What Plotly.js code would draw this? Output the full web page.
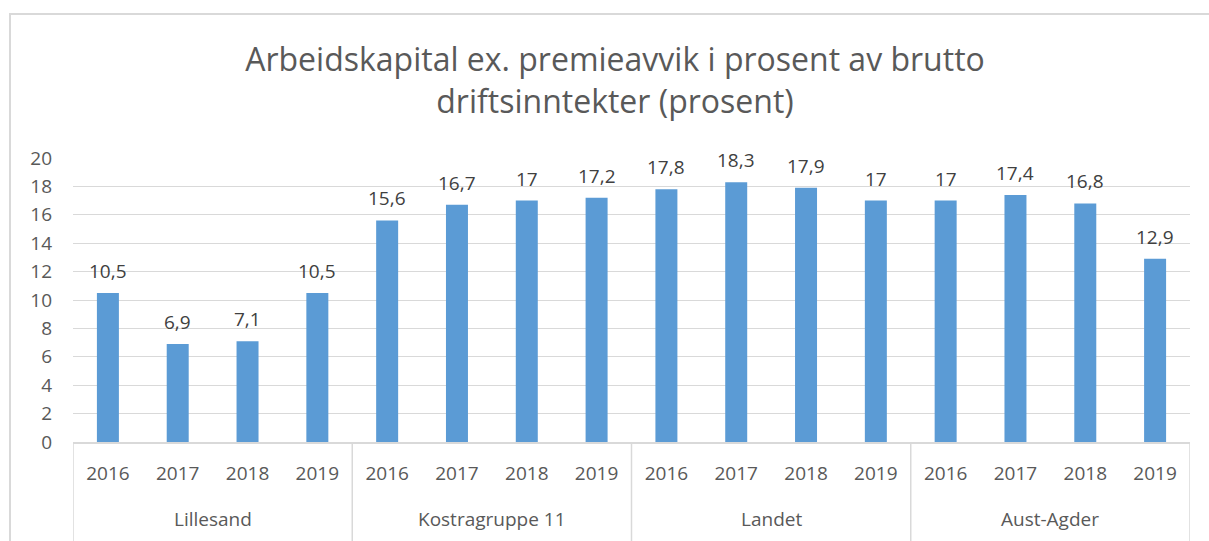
<!DOCTYPE html>
<html>
<head>
<meta charset="utf-8">
<script src="https://cdn.plot.ly/plotly-3.0.1.min.js"></script>
<style>
html,body{margin:0;padding:0;background:#fff;}
#chart{width:1209px;height:541px;position:relative;}
#frame{position:absolute;left:9px;top:13px;width:1210px;height:540px;border-left:2px solid #d9d9d9;border-top:2px solid #d9d9d9;pointer-events:none;}
</style>
</head>
<body>
<div id="chart"></div>
<div id="frame"></div>
<script>
const groups = ["Lillesand","Kostragruppe 11","Landet","Aust-Agder"];
const years = ["2016","2017","2018","2019"];
const lillesand = [10.5, 6.9, 7.1, 10.5];
const kostra11 = [15.6, 16.7, 17, 17.2];
const landet = [17.8, 18.3, 17.9, 17];
const austAgder = [17, 17.4, 16.8, 12.9];

const FONT = 'Open Sans, sans-serif';
const seriesByGroup = [lillesand, kostra11, landet, austAgder];
const xPos = [], yVals = [], tickText = [];
seriesByGroup.forEach((vals, gi) => {
  vals.forEach((v, yi) => {
    xPos.push(gi * years.length + yi);
    yVals.push(v);
    tickText.push(years[yi]);
  });
});
const labels = yVals.map(v => String(v).replace('.', ','));

const trace = {
  type: 'bar',
  x: xPos,
  y: yVals,
  marker: {color: '#5B9BD5'},
  hoverinfo: 'skip'
};

const plotH = 541 - 158 - 99;
const annotations = [];
// value labels
xPos.forEach((x, i) => {
  annotations.push({
    x: x, y: yVals[i], xref: 'x', yref: 'y',
    text: labels[i], showarrow: false,
    yanchor: 'bottom', xanchor: 'center', yshift: 7,
    font: {family: FONT, size: 19, color: '#404040'}
  });
});
// group labels
groups.forEach((g, gi) => {
  annotations.push({
    x: gi * years.length + (years.length - 1) / 2, xref: 'x',
    y: -(519 - 442) / plotH, yref: 'paper',
    text: g, showarrow: false, xanchor: 'center', yanchor: 'middle',
    font: {family: FONT, size: 19, color: '#595959'}
  });
});
// group dividers
const shapes = [];
for (let gi = 0; gi <= groups.length; gi++) {
  shapes.push({
    type: 'line', xref: 'x', yref: 'paper',
    x0: gi * years.length - 0.5, x1: gi * years.length - 0.5,
    y0: 0, y1: -99 / plotH,
    line: {color: '#d9d9d9', width: 1.5}
  });
}

const layout = {
  width: 1209, height: 541,
  margin: {l: 73, r: 19, t: 158, b: 99},
  paper_bgcolor: '#ffffff', plot_bgcolor: '#ffffff',
  bargap: 0.685,
  showlegend: false,
  title: {
    text: 'Arbeidskapital ex. premieavvik i prosent av brutto<br>driftsinntekter (prosent)',
    font: {family: FONT, size: 32, color: '#595959'},
    x: 615 / 1209, xanchor: 'center', y: 0.868, yanchor: 'top'
  },
  xaxis: {
    range: [-0.5, xPos.length - 0.5],
    tickmode: 'array', tickvals: xPos, ticktext: tickText,
    showline: true, linecolor: '#d9d9d9', linewidth: 1.5,
    tickfont: {family: FONT, size: 19, color: '#595959'},
    ticklabelstandoff: 14,
    showgrid: false, zeroline: false, ticks: ''
  },
  yaxis: {
    range: [0, 20], dtick: 2, tick0: 0,
    showgrid: true, gridcolor: '#d9d9d9', gridwidth: 1,
    zeroline: false, showline: false, ticks: '',
    tickfont: {family: FONT, size: 19, color: '#595959'},
    ticklabelstandoff: 20
  },
  annotations: annotations,
  shapes: shapes
};

Plotly.newPlot('chart', [trace], layout, {displayModeBar: false, staticPlot: true});
</script>
</body>
</html>
